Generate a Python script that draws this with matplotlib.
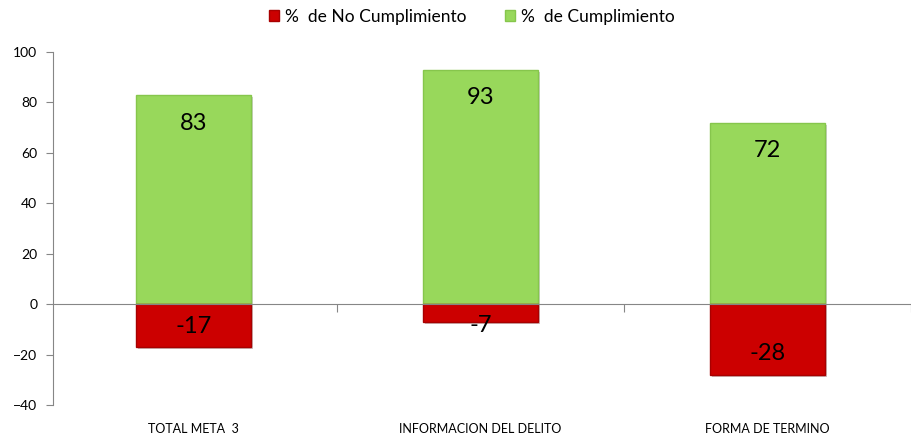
import matplotlib.pyplot as plt
import matplotlib.patheffects as pe
from matplotlib.patches import Patch
from matplotlib.transforms import blended_transform_factory
import numpy as np

plt.rcParams['font.family'] = ['Lato', 'DejaVu Sans']

# data
categorias = ['TOTAL META  3', 'INFORMACION DEL DELITO', 'FORMA DE TERMINO']
cumplimiento = [83, 93, 72]
no_cumplimiento = [-17, -7, -28]
yticks = [-40, -20, 0, 20, 40, 60, 80, 100]

verde = '#98D85B'
rojo = '#CC0000'
gris = '#868686'

fig = plt.figure(figsize=(9.11, 4.36), dpi=100)
ax = fig.add_axes([52.5/911, 31/436, 858.5/911, 353/436])

x = np.arange(len(categorias))
sombra = [pe.SimplePatchShadow(offset=(1.5, -1.5), alpha=0.25), pe.Normal()]
b1 = ax.bar(x, cumplimiento, width=0.4, color=verde, edgecolor='#86C64C',
            linewidth=1, path_effects=sombra, zorder=2)
b2 = ax.bar(x, no_cumplimiento, width=0.4, color=rojo, edgecolor='#A80000',
            linewidth=1, path_effects=sombra, zorder=2)

# value labels (inside end)
for xi, v in zip(x, cumplimiento):
    ax.text(xi, v - 11.2, str(v), ha='center', va='center', fontsize=17, zorder=3)
for xi, v in zip(x, no_cumplimiento):
    ax.text(xi, min(v + 8.3, -8.3), str(v), ha='center', va='center', fontsize=17, zorder=3)

ax.set_xlim(-0.4907, 2.459)
ax.set_ylim(-40, 100)
ax.set_yticks(yticks)
ax.tick_params(axis='y', direction='out', length=5, color=gris, labelsize=10, pad=6)

for s in ['top', 'right']:
    ax.spines[s].set_visible(False)
ax.spines['left'].set_color(gris)
ax.spines['bottom'].set_position(('data', 0))
ax.spines['bottom'].set_color(gris)
ax.spines['bottom'].set_zorder(3)

# category boundaries as tick marks on the zero line
ax.set_xticks(x + 0.5)
ax.set_xticklabels([])
ax.tick_params(axis='x', direction='out', length=6, color=gris)

trans = blended_transform_factory(ax.transData, ax.transAxes)
for xi, c in zip(x, categorias):
    ax.text(xi, -0.067, c, transform=trans, ha='center', va='center', fontsize=9)

handles = [Patch(facecolor=rojo, edgecolor='#A80000', label='%  de No Cumplimiento'),
           Patch(facecolor=verde, edgecolor='#86C64C', label='%  de Cumplimiento')]
fig.legend(handles=handles, loc='center', bbox_to_anchor=(0.518, 0.962), ncol=2,
           frameon=False, fontsize=12.5, handlelength=0.6, handleheight=0.6,
           handletextpad=0.35, columnspacing=2.2)

fig.savefig('out.png', dpi=100)
